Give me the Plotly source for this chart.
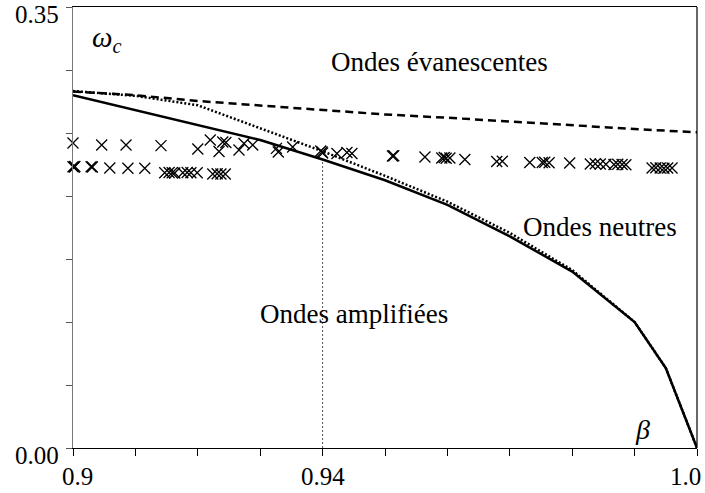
import plotly.graph_objects as go

# Stability boundaries omega_c(beta)
beta_curve = [0.90, 0.91, 0.92, 0.93, 0.94, 0.95, 0.96, 0.97, 0.98, 0.99, 0.995, 1.00]
omega_solid = [0.280, 0.268, 0.256, 0.2444, 0.229, 0.2125, 0.193, 0.168, 0.140, 0.100, 0.0635, 0.0]
omega_dotted = [0.2833, 0.2795, 0.272, 0.254, 0.2355, 0.216, 0.1955, 0.1707, 0.1412, 0.100, 0.0635, 0.0]

beta_dashed = [0.90, 0.91, 0.92, 0.93, 0.94, 0.95, 0.96, 0.97, 0.98, 0.99, 1.00]
omega_dashed = [0.2830, 0.2800, 0.2754, 0.2718, 0.2677, 0.2647, 0.2621, 0.2590, 0.2560, 0.2532, 0.2505]

# Measured cut-off frequencies
beta_meas = [
    0.9000, 0.9046, 0.9085, 0.9141, 0.9200, 0.9220, 0.9234, 0.9240, 0.9245, 0.9266, 0.9274, 0.9288,
    0.9326, 0.9329, 0.9352, 0.9397, 0.9399, 0.9400, 0.9423, 0.9439, 0.9447, 0.9512, 0.9514,
    0.9564, 0.9591, 0.9595, 0.9598, 0.9604, 0.9628, 0.9679, 0.9688, 0.9732, 0.9752, 0.9756, 0.9763,
    0.9796, 0.9829, 0.9837, 0.9845, 0.9854, 0.9867, 0.9873, 0.9880, 0.9886,
    0.9928, 0.9934, 0.9941, 0.9947, 0.9953, 0.9960,
    0.9000, 0.9002, 0.9003, 0.9029, 0.9031, 0.9059, 0.9088, 0.9115,
    0.9147, 0.9154, 0.9159, 0.9163, 0.9176, 0.9183, 0.9189, 0.9199,
    0.9224, 0.9231, 0.9237, 0.9244,
]
omega_meas = [
    0.2421, 0.2405, 0.2405, 0.2400, 0.2373, 0.2444, 0.2353, 0.2429, 0.2425, 0.2365, 0.2417, 0.2405,
    0.2378, 0.2349, 0.2389, 0.2357, 0.2350, 0.2341, 0.2337, 0.2345, 0.2337, 0.2317, 0.2320,
    0.2310, 0.2302, 0.2305, 0.2300, 0.2302, 0.2290, 0.2274, 0.2276, 0.2266, 0.2266, 0.2268, 0.2264,
    0.2262, 0.2254, 0.2256, 0.2254, 0.2252, 0.2250, 0.2252, 0.2250, 0.2248,
    0.2222, 0.2224, 0.2222, 0.2220, 0.2222, 0.2222,
    0.2232, 0.2230, 0.2234, 0.2232, 0.2230, 0.2222, 0.2220, 0.2220,
    0.2184, 0.2186, 0.2184, 0.2182, 0.2184, 0.2186, 0.2184, 0.2184,
    0.2175, 0.2177, 0.2175, 0.2175,
]

x_ticks = [0.90, 0.91, 0.92, 0.93, 0.94, 0.95, 0.96, 0.97, 0.98, 0.99, 1.00]
x_label_vals = [0.90, 0.94, 1.00]
x_label_text = ["0.9", "0.94", "1.0"]
y_ticks = [0.0, 0.05, 0.10, 0.15, 0.20, 0.25, 0.30, 0.35]
y_label_vals = [0.0, 0.35]
y_label_text = ["0.00", "0.35"]

beta_mark = 0.94
omega_mark = omega_solid[beta_curve.index(beta_mark)]

SERIF = "Liberation Serif, Times New Roman, serif"

fig = go.Figure()

fig.add_trace(go.Scatter(
    x=[beta_mark, beta_mark], y=[0.0, omega_mark], mode="lines",
    line=dict(color="#555555", width=1, dash="2px,2px"), showlegend=False, hoverinfo="skip"))

fig.add_trace(go.Scatter(
    x=beta_dashed, y=omega_dashed, mode="lines",
    line=dict(color="black", width=2.5, dash="8px,5px"), showlegend=False))

fig.add_trace(go.Scatter(
    x=beta_curve, y=omega_dotted, mode="lines",
    line=dict(color="black", width=2.5, dash="2px,2px"), showlegend=False))

fig.add_trace(go.Scatter(
    x=beta_curve, y=omega_solid, mode="lines",
    line=dict(color="black", width=2.5), showlegend=False))

fig.add_trace(go.Scatter(
    x=beta_meas, y=omega_meas, mode="markers",
    marker=dict(symbol="x-thin", size=11, line=dict(color="black", width=1.3)),
    showlegend=False, cliponaxis=False))

# Right-hand frame edge
fig.add_shape(type="line", xref="paper", yref="paper", x0=1, x1=1, y0=0, y1=1,
              line=dict(color="black", width=1.2))

text_font = dict(family=SERIF, size=27, color="black")
fig.add_annotation(x=0.9587, y=0.3062, text="Ondes évanescentes", showarrow=False, font=text_font)
fig.add_annotation(x=0.9845, y=0.1757, text="Ondes neutres", showarrow=False, font=text_font)
fig.add_annotation(x=0.9450, y=0.1063, text="Ondes amplifiées", showarrow=False, font=text_font)
fig.add_annotation(x=0.9055, y=0.3250, text="<i>ω</i><sub><i>c</i></sub>", showarrow=False,
                   font=dict(family=SERIF, size=29, color="black"))
fig.add_annotation(x=0.9913, y=0.0150, text="<i>β</i>", showarrow=False,
                   font=dict(family=SERIF, size=28, color="black"))

tick_font = dict(family=SERIF, size=25, color="black")

# y-axis labels sit slightly below their tick marks
for val, txt in zip(y_label_vals, y_label_text):
    fig.add_annotation(x=0, xref="paper", y=val, yref="y", text=txt, showarrow=False,
                       xanchor="right", xshift=-12, yshift=-7, font=tick_font)

# x-axis labels; the last one is kept inside the page
for val, txt in zip(x_label_vals, x_label_text):
    last = val == x_label_vals[-1]
    fig.add_annotation(x=val, xref="x", y=0, yref="paper", text=txt, showarrow=False,
                       xanchor="right" if last else "center", yanchor="top",
                       xshift=6 if last else (4 if val == x_label_vals[0] else 0),
                       yshift=-13, font=tick_font)

fig.update_layout(
    width=705, height=493,
    margin=dict(l=73, r=8, t=7, b=45, autoexpand=False),
    paper_bgcolor="white", plot_bgcolor="white",
    xaxis=dict(
        range=[0.9, 1.0], tickvals=x_ticks, showticklabels=False,
        ticks="outside", ticklen=7, tickwidth=1, tickcolor="black",
        showline=True, linecolor="black", linewidth=1.2, mirror=True,
        showgrid=False, zeroline=False, automargin=False,
    ),
    yaxis=dict(
        range=[0.0, 0.35], tickvals=y_ticks, showticklabels=False,
        ticks="outside", ticklen=6, tickwidth=1, tickcolor="#555555",
        showline=True, linecolor="#777777", linewidth=1.2,
        showgrid=False, zeroline=False, automargin=False,
    ),
)

fig.write_html("out.html")
